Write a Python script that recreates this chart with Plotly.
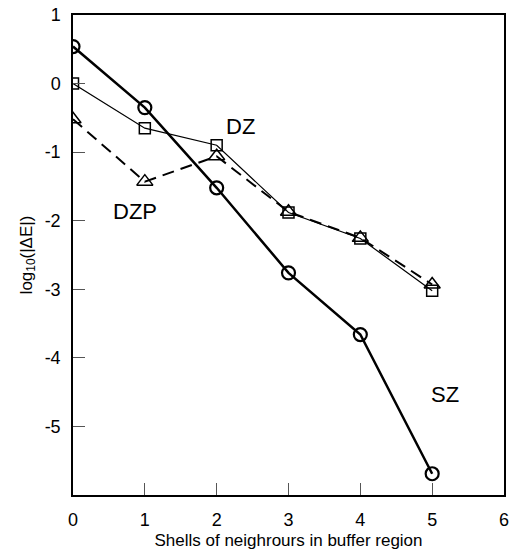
import plotly.graph_objects as go

shells = [0, 1, 2, 3, 4, 5]
sz = [0.54, -0.35, -1.52, -2.76, -3.66, -5.69]
dz = [0.0, -0.65, -0.90, -1.88, -2.26, -3.02]
dzp = [-0.52, -1.43, -1.06, -1.87, -2.25, -2.93]

x_ticks = [0, 1, 2, 3, 4, 5, 6]
x_ticktext = ["0", "1", "2", "3", "4", "5", "6"]
y_ticks = [-5, -4, -3, -2, -1, 0, 1]
y_ticktext = ["-5", "-4", "-3", "-2", "-1", "0", "1"]

labels = ["DZ", "DZP", "SZ"]
label_x = [2.33, 0.86, 5.18]
label_y = [-0.62, -1.87, -4.54]

FONT = "Liberation Sans, Arial, sans-serif"

fig = go.Figure()
fig.add_trace(go.Scatter(x=shells, y=dzp, mode="lines+markers",
                         line=dict(color="black", width=2, dash="12px,7px"),
                         marker=dict(symbol="triangle-up-open", size=14, color="black",
                                     line=dict(width=1.5, color="black"))))
fig.add_trace(go.Scatter(x=shells, y=dz, mode="lines+markers",
                         line=dict(color="black", width=1.2),
                         marker=dict(symbol="square-open", size=11, color="black",
                                     line=dict(width=1.5, color="black"))))
fig.add_trace(go.Scatter(x=shells, y=sz, mode="lines+markers",
                         line=dict(color="black", width=2.5),
                         marker=dict(symbol="circle-open", size=13, color="black",
                                     line=dict(width=2.2, color="black"))))

for t, lx, ly in zip(labels, label_x, label_y):
    fig.add_annotation(x=lx, y=ly, text=t, showarrow=False,
                       font=dict(family=FONT, size=22, color="black"))

fig.update_layout(
    width=511, height=550,
    margin=dict(l=73, r=7, t=15, b=55),
    plot_bgcolor="white", paper_bgcolor="white",
    showlegend=False,
    font=dict(family=FONT, size=18, color="black"),
)
fig.update_xaxes(range=[0, 6], tickvals=x_ticks, ticktext=x_ticktext,
                 ticks="inside", ticklen=12, tickcolor="#555", tickwidth=1,
                 tickfont=dict(family=FONT, size=18, color="black"),
                 ticklabeloverflow="allow", ticklabelstandoff=8, automargin=False,
                 showline=True, linecolor="black", linewidth=1.5, mirror=True,
                 showgrid=False, zeroline=False,
                 title=dict(text="Shells of neighrours in buffer region", standoff=6,
                            font=dict(family=FONT, size=17, color="black")))
fig.update_yaxes(range=[-6, 1], tickvals=y_ticks, ticktext=y_ticktext,
                 ticks="inside", ticklen=12, tickcolor="#555", tickwidth=1,
                 tickfont=dict(family=FONT, size=18, color="black"),
                 ticklabeloverflow="allow", ticklabelstandoff=7, automargin=False,
                 showline=True, linecolor="black", linewidth=1.5, mirror=True,
                 showgrid=False, zeroline=False,
                 title=dict(text="log<sub>10</sub>(|ΔE|)", standoff=8,
                            font=dict(family=FONT, size=17, color="black")))

fig.write_html("out.html",
               config={"displayModeBar": False},
               post_script="document.body.style.margin='0';document.body.style.overflow='hidden';")
